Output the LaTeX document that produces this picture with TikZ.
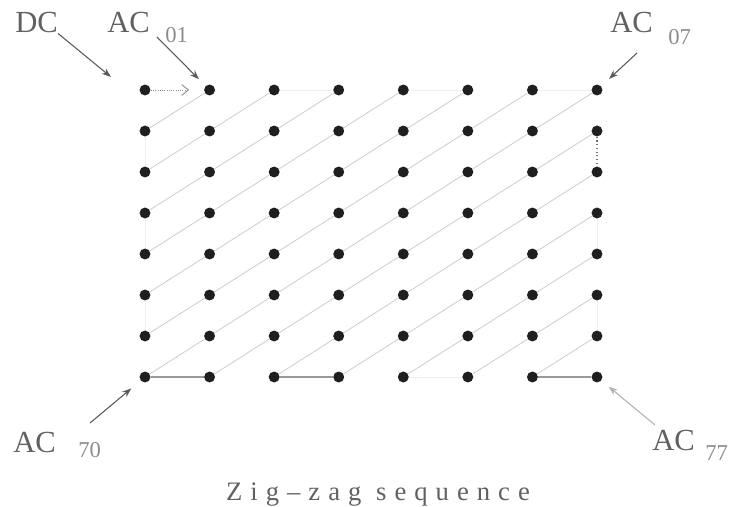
\documentclass[tikz,border=0pt]{standalone}
\usepackage{fontspec}
\setmainfont{Liberation Serif}
\usetikzlibrary{arrows.meta,backgrounds}
\begin{document}
\begin{tikzpicture}[x=0.75pt,y=-0.75pt,
  dot/.style={circle,fill=black!88,inner sep=0pt,minimum size=8.2pt},
  lab/.style={font=\fontsize{23}{23}\selectfont,text=black!62,inner sep=0pt,anchor=base west},
  sublab/.style={font=\fontsize{17}{17}\selectfont,text=black!45,inner sep=0pt,anchor=base west},
  zz/.style={draw=black!20,line width=0.6pt},
  zzfaint/.style={draw=black!6,line width=0.5pt},
  stepseg/.style={draw=black!40,line width=0.8pt},
  stepdot/.style={draw=black!55,line width=0.8pt,dotted},
  ptr/.style={draw=black!65,line width=0.8pt,-{Stealth[length=7pt,width=5pt]}},
  firstarrow/.style={draw=black!45,line width=0.7pt,densely dotted,-{Straight Barb[length=5pt,width=8pt]}},
]
\useasboundingbox (0,0) rectangle (741,506);

% grid of dots
\foreach \r in {0,...,7}{
  \foreach \c in {0,...,7}{
    \node[dot] (d\r\c) at ({145+64.57*\c},{90+41*\r}) {};
  }
}

\begin{scope}[on background layer]
  % diagonals of the zig-zag
  \foreach \a/\b in {01/10,20/02,03/30,40/04,05/50,60/06,07/70,71/17,27/72,73/37,47/74,75/57,67/76}
    \draw[zz] (d\a) -- (d\b);
  % faint steps
  \foreach \a/\b in {10/20,02/03,30/40,04/05,50/60,06/07,37/47,74/75,57/67}
    \draw[zzfaint] (d\a) -- (d\b);
  % visible steps
  \foreach \a/\b in {70/71,72/73,76/77}
    \draw[stepseg] (d\a) -- (d\b);
  \draw[stepdot] (d17) -- (d27);
  \draw[firstarrow,shorten >=11pt] (d00) -- (d01);
\end{scope}

% labels
\node[lab] (dc) at (15,33) {DC};
\node[lab] (ac01) at (107,33) {AC};
\node[sublab] (ac01s) at (165,43) {01};
\node[lab] (ac07) at (610,33) {AC};
\node[sublab] (ac07s) at (668,45) {07};
\node[lab] (ac70) at (13,452) {AC};
\node[sublab] (ac70s) at (78,457) {70};
\node[lab] (ac77) at (652,450) {AC};
\node[sublab] (ac77s) at (705,460) {77};

% pointer arrows
\coordinate (dctip) at (111,77);
\coordinate (a01tail) at (157,37);
\coordinate (a07tail) at (637,53);
\coordinate (a70tail) at (90,423);
\coordinate (a77tail) at (655,425);
\draw[ptr] (dc.south east) -- (dctip);
\draw[ptr,shorten >=7pt] (a01tail) -- (d01);
\draw[ptr,shorten >=8pt] (a07tail) -- (d07);
\draw[ptr,shorten >=9pt] (a70tail) -- (d70);
\draw[ptr,draw=black!30,shorten >=7pt] (a77tail) -- (d77);

% caption
\node[font=\fontsize{20}{20}\selectfont\addfontfeature{LetterSpace=30},text=black!62,inner sep=0pt,anchor=base] (cap) at (378,500) {Zig–zag sequence};
\end{tikzpicture}
\end{document}
